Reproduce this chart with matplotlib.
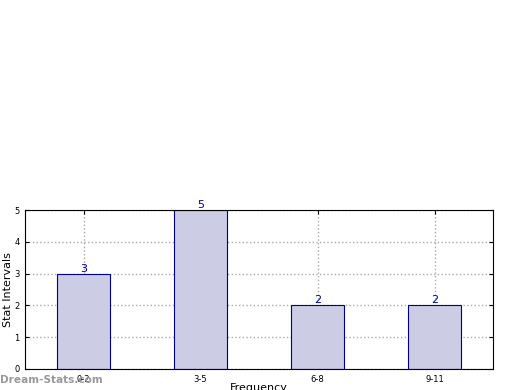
import matplotlib
matplotlib.use("Agg")
import matplotlib.pyplot as plt

categories = ["0-2", "3-5", "6-8", "9-11"]
values = [3, 5, 2, 2]

fig = plt.figure(figsize=(5.2, 3.9), dpi=100)
ax = fig.add_axes([25/520, 21/390, 468/520, 159/390])
x = list(range(len(categories)))
ax.bar(x, values, width=0.45, color="#ccccE5", edgecolor="#00008B", linewidth=0.8, zorder=2)
for xi, v in zip(x, values):
    ax.text(xi, v, str(v), ha="center", va="bottom", color="#00008B", fontsize=8, zorder=3)
ax.set_xlim(-0.5, 3.5)
ax.set_ylim(0, 5)
ax.set_xticks(x)
ax.set_xticklabels(categories, fontsize=6)
ax.set_yticks(range(6))
ax.tick_params(axis="y", labelsize=6)
ax.tick_params(direction="in", top=True, right=True, length=3, pad=4)
ax.grid(True, linestyle=":", color="#aaaaaa", linewidth=1, zorder=0)
ax.set_axisbelow(True)
ax.set_ylabel("Stat Intervals", fontsize=8)
ax.yaxis.set_label_coords(-12/468, 0.5)
ax.set_xlabel("Frequency", fontsize=8)
ax.xaxis.set_label_coords(0.5, -14/159)
ax.xaxis.label.set_va("top")
fig.text(0.0, 5/390, "Dream-Stats.com", fontsize=7.6, fontweight="bold", color="#999999", ha="left", va="bottom")
fig.savefig("out.png", dpi=100)
